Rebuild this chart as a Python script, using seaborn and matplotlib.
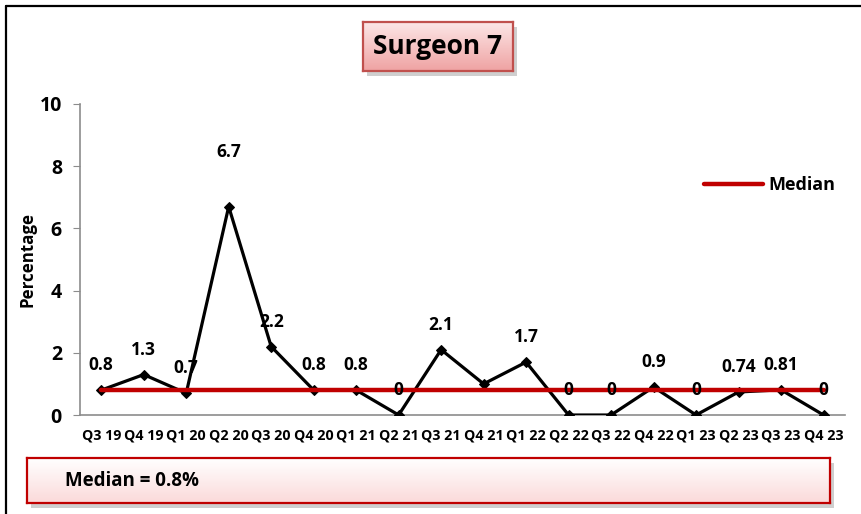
import numpy as np
import pandas as pd
import matplotlib
matplotlib.use("Agg")
import matplotlib.pyplot as plt
import seaborn as sns
from matplotlib.colors import LinearSegmentedColormap
from matplotlib.patches import Rectangle
from matplotlib.lines import Line2D

# chart data
quarters = ["Q3 19", "Q4 19", "Q1 20", "Q2 20", "Q3 20", "Q4 20", "Q1 21", "Q2 21", "Q3 21",
            "Q4 21", "Q1 22", "Q2 22", "Q3 22", "Q4 22", "Q1 23", "Q2 23", "Q3 23", "Q4 23"]
percentages = [0.8, 1.3, 0.7, 6.7, 2.2, 0.8, 0.8, 0, 2.1, 1.0, 1.7, 0, 0, 0.9, 0, 0.74, 0.81, 0]
point_labels = ["0.8", "1.3", "0.7", "6.7", "2.2", "0.8", "0.8", "0", "2.1", "",
                "1.7", "0", "0", "0.9", "0", "0.74", "0.81", "0"]
median_value = 0.8
chart_title = "Surgeon 7"
y_ticks = [0, 2, 4, 6, 8, 10]

sns.set_style("white")
plt.rcParams['font.family'] = ['Open Sans', 'DejaVu Sans']
plt.rcParams['font.weight'] = 'bold'
for key in ['text.color', 'axes.labelcolor', 'xtick.color', 'ytick.color']:
    plt.rcParams[key] = 'black'

df = pd.DataFrame({'quarter': quarters, 'pct': percentages})
df['median'] = median_value

fig = plt.figure(figsize=(8.62, 5.14), dpi=100)
ax = fig.add_axes([0.0928, 0.1926, 0.8872, 0.6051])

sns.lineplot(data=df, x='quarter', y='pct', sort=False, color='black', linewidth=2.3,
             marker='D', markersize=5.5, markeredgecolor='black', ax=ax, zorder=3)
sns.lineplot(data=df, x='quarter', y='median', sort=False, color='#C00000', linewidth=3.2,
             ax=ax, zorder=4)

# data labels above each point (the peak label sits higher)
for i, (v, lab) in enumerate(zip(percentages, point_labels)):
    if not lab:
        continue
    dy = 39 if v == max(percentages) else 18
    ax.annotate(lab, (i, v), xytext=(0, dy), textcoords='offset points',
                ha='center', va='center', fontsize=12.5, fontweight='bold', zorder=5)

ax.set_xlim(-0.5, len(quarters) - 0.5)
ax.set_ylim(0, 10)
ax.set_yticks(y_ticks)
ax.set_yticklabels([str(t) for t in y_ticks], fontsize=14, fontweight='bold')
ax.set_xticks(range(len(quarters)))
ax.set_xticklabels(quarters, fontsize=10.3, fontweight='bold')
ax.set_xlabel('')
ax.set_ylabel('Percentage', fontsize=12.2, fontweight='bold', labelpad=2)

for side in ['top', 'right']:
    ax.spines[side].set_visible(False)
for side in ['left', 'bottom']:
    ax.spines[side].set_color('#8c8c8c')
    ax.spines[side].set_linewidth(1.2)
ax.tick_params(axis='y', which='major', left=True, length=5, color='#8c8c8c', pad=8)
ax.tick_params(axis='x', which='major', bottom=False, pad=6)

# legend
handle = Line2D([0], [0], color='#C00000', linewidth=3.2)
ax.legend([handle], ['Median'], loc='center', bbox_to_anchor=(0.893, 0.640),
          bbox_transform=fig.transFigure, frameon=False, handlelength=3.3,
          handletextpad=0.3, prop={'weight': 'bold', 'size': 13})

# outer frame lines (left and top)
fig.add_artist(Line2D([6 / 862, 6 / 862], [0, 1 - 6 / 514], transform=fig.transFigure,
                      color='black', linewidth=1.6))
fig.add_artist(Line2D([6 / 862, 1], [1 - 6 / 514, 1 - 6 / 514], transform=fig.transFigure,
                      color='black', linewidth=1.6))


def shaded_box(x0, y0, w, h, top_col, bottom_col, edge):
    # drop shadow
    fig.add_artist(Rectangle((x0 + 4 / 862, y0 - 5 / 514), w, h, transform=fig.transFigure,
                             facecolor='#a8a8a8', edgecolor='none', alpha=0.55, zorder=0))
    bax = fig.add_axes([x0, y0, w, h])
    cmap = LinearSegmentedColormap.from_list('box', [bottom_col, top_col])
    grad = np.linspace(0, 1, 64).reshape(-1, 1)
    bax.imshow(grad, aspect='auto', cmap=cmap, origin='lower', extent=[0, 1, 0, 1])
    bax.set_xlim(0, 1)
    bax.set_ylim(0, 1)
    bax.set_xticks([])
    bax.set_yticks([])
    for s in bax.spines.values():
        s.set_color(edge)
        s.set_linewidth(1.6)
    return bax


tax = shaded_box(363 / 862, 1 - 71 / 514, 150 / 862, 49 / 514, '#FCE6E6', '#EFA3A3', '#C0504D')
tax.text(0.5, 0.5, chart_title, ha='center', va='center', fontsize=19, fontweight='bold')

max_ = shaded_box(27 / 862, 1 - 503 / 514, 803 / 862, 45 / 514, '#FFFFFF', '#FBDADA', '#C00000')
max_.text(38 / 803, 0.5, 'Median = %.1f%%' % median_value, ha='left', va='center',
          fontsize=13.5, fontweight='bold')

fig.savefig('out.png', dpi=100)
